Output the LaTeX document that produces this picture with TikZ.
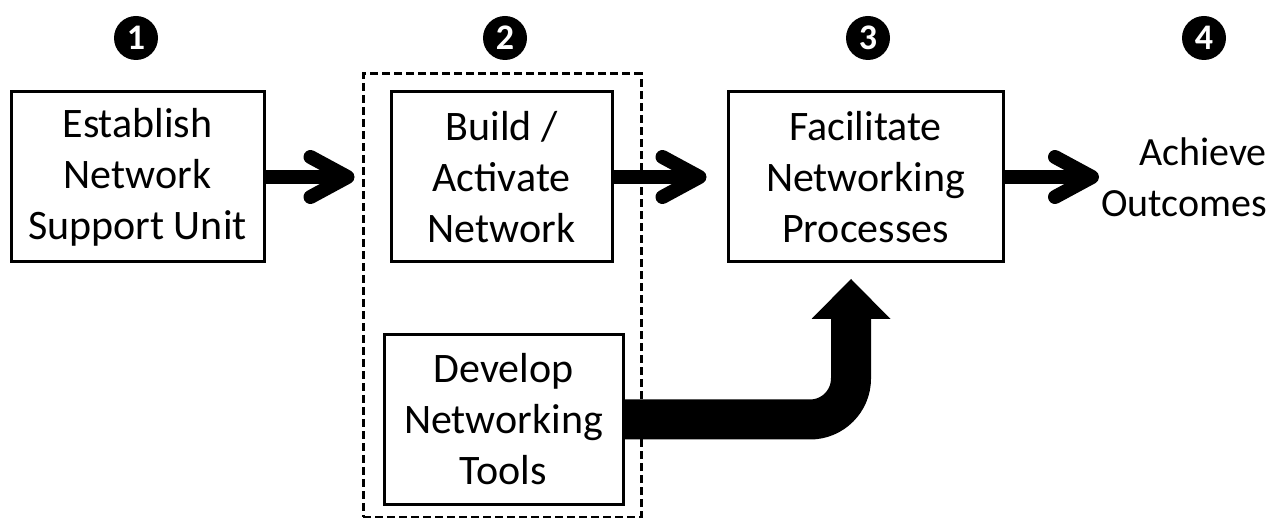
\documentclass[tikz,border=0pt]{standalone}
\usepackage{fontspec}
\setmainfont{Carlito}
\usetikzlibrary{arrows.meta}

\begin{document}
\begin{tikzpicture}[x=1pt,y=-1pt,
  stage/.style={rectangle,draw,line width=3pt,align=center,inner sep=0pt,
    font=\fontsize{42}{51}\selectfont},
  stepnum/.style={circle,fill=black,text=white,minimum size=44pt,inner sep=0pt,
    font=\bfseries\fontsize{36}{36}\selectfont},
  flow/.style={line width=14pt,-{Straight Barb[length=37pt,width=40pt,round]}},
  bigflow/.style={line width=40pt,rounded corners=41pt,
    -{Triangle[length=40pt,width=79pt,line width=0pt]}}]
  \useasboundingbox (0,0) rectangle (1275,518);

  % group of step 2
  \node at (502,295.5) (grp) [rectangle,draw,line width=3pt,dash pattern=on 8pt off 4pt,
    minimum width=278pt,minimum height=443pt] {};

  \node at (137.5,177) (est) [stage,minimum width=253pt,minimum height=170pt]
    {Establish\\Network\\Support Unit};
  \node at (501.5,177) (bld) [stage,minimum width=221pt,minimum height=170pt]
    {Build /\\Activate\\Network};
  \node at (503.5,419.5) (dev) [stage,minimum width=239pt,minimum height=169pt]
    {Develop\\Networking\\Tools};
  \node at (865.5,177) (fac) [stage,minimum width=275pt,minimum height=170pt]
    {Facilitate\\Networking\\Processes};
  \node at (1267,177) (out) [anchor=east,align=right,inner sep=0pt,
    font=\fontsize{40}{51}\selectfont] {Achieve\\Outcomes};

  % step numbers
  \node at (136,38) (n1) [stepnum] {1};
  \node at (505,38) (n2) [stepnum] {2};
  \node at (868,38) (n3) [stepnum] {3};
  \node at (1204,38) (n4) [stepnum] {4};

  \coordinate (gain) at (851,279);
  \coordinate (into) at ([xshift=-7pt]est.east -| grp.west);
  \draw[flow] (est.east) -- (into);
  \draw[flow] (bld.east) -- ([xshift=-20pt]fac.west);
  \draw[flow] (fac.east) -- ([xshift=-2pt]out.west);
  \draw[bigflow] (dev.east) -| (gain);
\end{tikzpicture}
\end{document}
